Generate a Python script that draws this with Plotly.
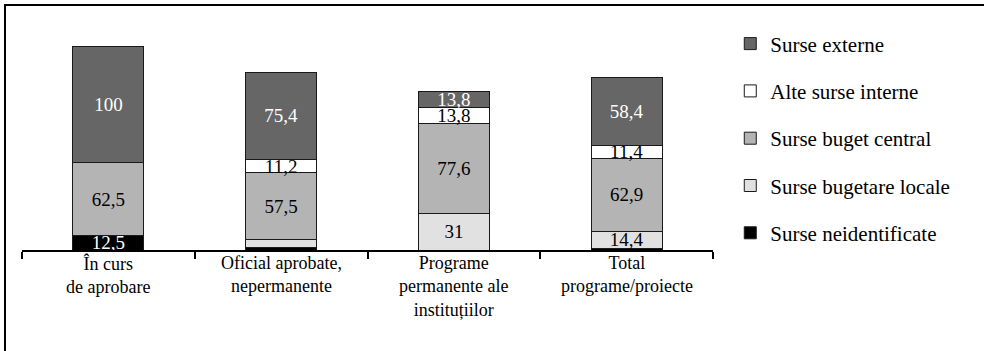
import plotly.graph_objects as go

categories = ["În curs<br>de aprobare", "Oficial aprobate,<br>nepermanente",
              "Programe<br>permanente ale<br>instituțiilor", "Total<br>programe/proiecte"]

# stacked shares by funding source (bottom to top)
neidentificate = [12.5, 2.0, 0.0, 1.5]
bugetare_locale = [0.0, 7.0, 31.0, 14.4]
buget_central = [62.5, 57.5, 77.6, 62.9]
alte_interne = [0.0, 11.2, 13.8, 11.4]
externe = [100.0, 75.4, 13.8, 58.4]

# which segments carry a value label
show_neid = [True, False, False, False]
show_locale = [False, False, True, True]
show_central = [True, True, True, True]
show_alte = [False, True, True, True]
show_externe = [True, True, True, True]

FONT = "Liberation Serif, Times New Roman, serif"


def fmt(vals, show):
    return [f"{v:g}".replace(".", ",") if s else "" for v, s in zip(vals, show)]


series = [
    ("Surse neidentificate", neidentificate, show_neid, "#000000", "white", 5),
    ("Surse bugetare locale", bugetare_locale, show_locale, "#e1e1e1", "black", 4),
    ("Surse buget central", buget_central, show_central, "#b4b4b4", "black", 3),
    ("Alte surse interne", alte_interne, show_alte, "#ffffff", "black", 2),
    ("Surse externe", externe, show_externe, "#666666", "white", 1),
]

fig = go.Figure()
for name, vals, show, color, tcolor, rank in series:
    fig.add_trace(go.Bar(
        x=categories, y=vals, name=name, legendgroup=name, legendrank=rank,
        marker=dict(color=color, line=dict(color="#1a1a1a", width=1)),
        text=fmt(vals, show), textposition="inside", insidetextanchor="middle",
        textfont=dict(family=FONT, size=19, color=tcolor),
        cliponaxis=False,
    ))

# category captions under the axis
for c in categories:
    fig.add_annotation(
        x=c, y=0, xref="x", yref="y", yanchor="top", yshift=-1,
        text=c, showarrow=False, align="center",
        font=dict(family=FONT, size=18, color="black"),
    )

fig.update_layout(
    barmode="stack",
    bargap=0.59,
    width=984, height=351,
    margin=dict(l=22, r=271, t=20, b=101),
    paper_bgcolor="white", plot_bgcolor="white",
    font=dict(family=FONT, size=18, color="black"),
    uniformtext=dict(mode="show", minsize=19),
    showlegend=True,
    legend=dict(
        x=1.025, y=0.985, xanchor="left", yanchor="top",
        traceorder="grouped", tracegroupgap=17, maxheight=400,
        font=dict(family=FONT, size=21, color="black"),
        bgcolor="rgba(0,0,0,0)",
    ),
    xaxis=dict(
        showline=True, linecolor="black", linewidth=2,
        ticks="outside", tickson="boundaries", ticklen=7, tickwidth=2, tickcolor="black",
        showgrid=False, showticklabels=False,
    ),
    yaxis=dict(range=[0, 198], visible=False),
    shapes=[dict(
        type="rect", xref="paper", yref="paper",
        x0=(5 - 22) / 691, x1=(990 - 22) / 691,
        y0=(250 - 360) / 230, y1=(250 - 5) / 230,
        line=dict(color="black", width=2), fillcolor="rgba(0,0,0,0)", layer="above",
    )],
)

fig.write_html("out.html")
